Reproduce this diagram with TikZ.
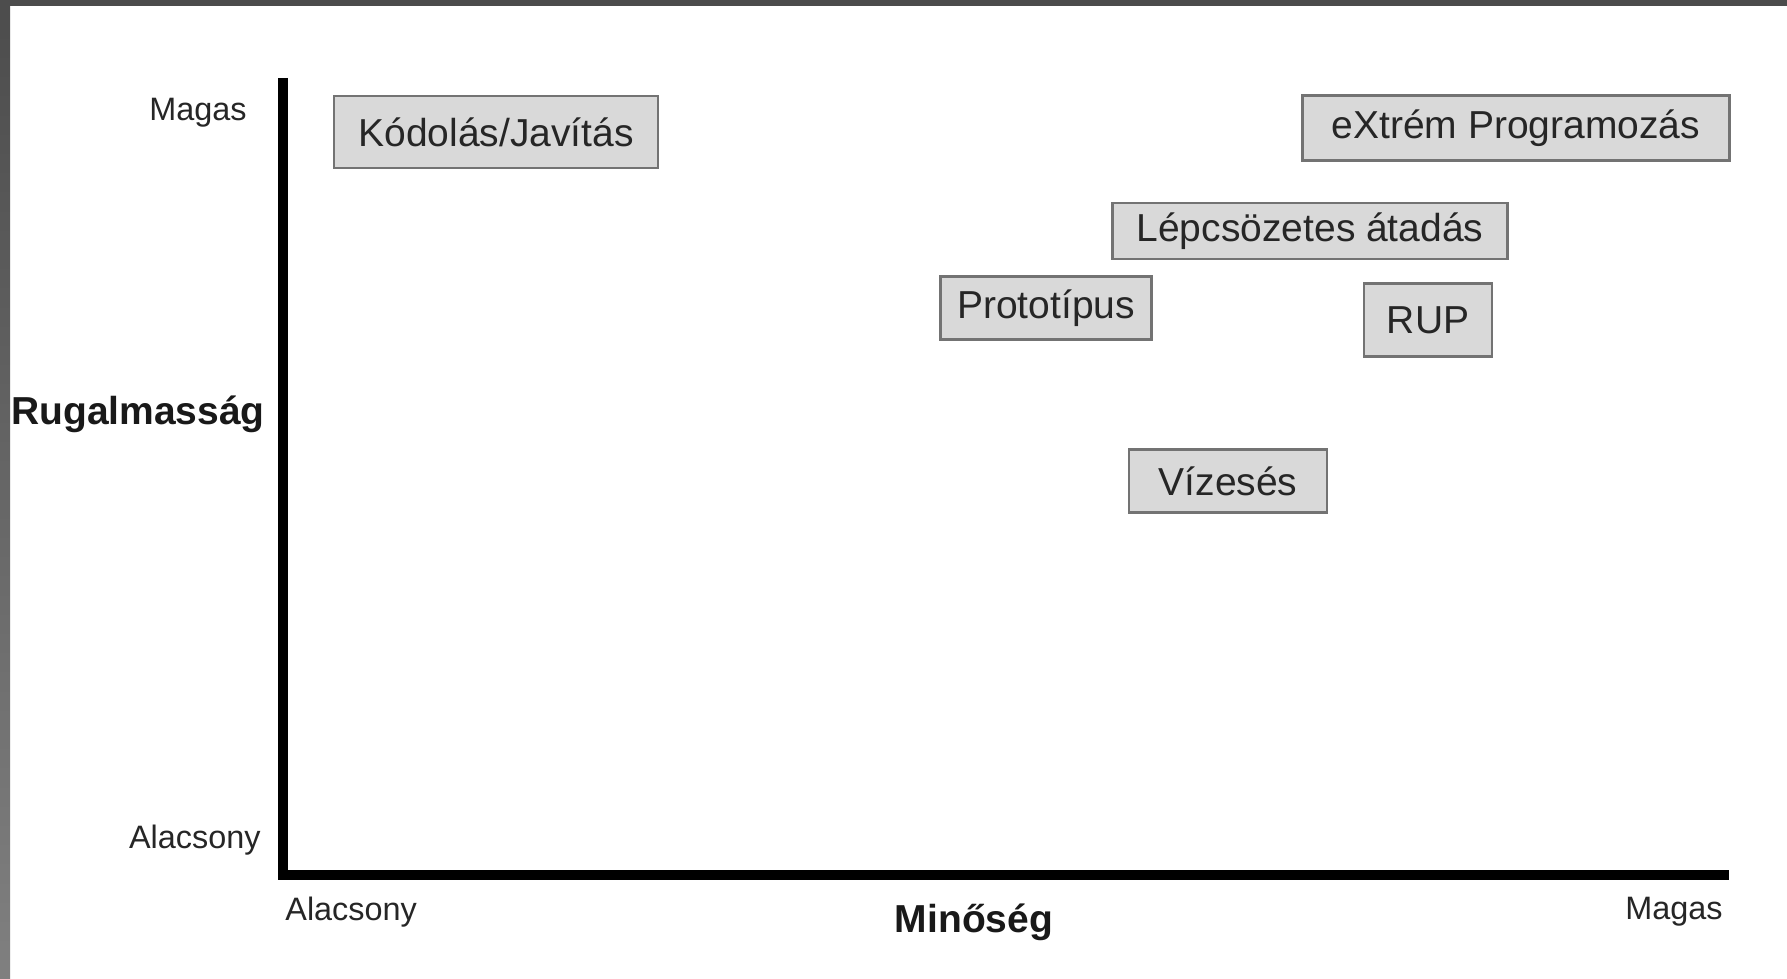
\documentclass[tikz,border=0pt]{standalone}
\usepackage{fontspec}
\setmainfont{Liberation Sans}
\begin{document}
\begin{tikzpicture}[x=0.5pt,y=-0.5pt]
        \tikzstyle{method}=[
            draw=black!55,line width=1.1pt,fill=black!15,inner sep=0pt,
            text=black!85,font=\fontsize{19.5}{23}\selectfont
        ]
        \tikzstyle{axis}=[line width=5pt,black]
        \tikzstyle{tick}=[text=black!85,inner sep=0pt,font=\fontsize{16.2}{19}\selectfont]
        \tikzstyle{title}=[text=black!90,inner sep=0pt,font=\bfseries\fontsize{19.5}{23}\selectfont]

        % Page and frame
        \useasboundingbox (0,0) rectangle (1787,979);
        \fill[white] (0,0) rectangle (1787,979);
        \fill[black!70] (0,0) rectangle (1787,6);
        \shade[top color=black!70,bottom color=black!50] (0,0) rectangle (10,979);

        % Draw the axes
        \coordinate (top) at (283,78);
        \coordinate (origin) at (283,875);
        \coordinate (end) at (1729,875);
        \draw[axis] (top) -- (origin) -- (end);

        % Annotate the axes
        \node[tick,anchor=east] (yhigh) at (247,113) {Magas};
        \node[tick,anchor=east] (ylow) at (261,840) {Alacsony};
        \node[title] (ylabel) at (138,414) {Rugalmasság};
        \node[tick,anchor=west] (xlow) at (285,912) {Alacsony};
        \node[tick,anchor=east] (xhigh) at (1723,912) {Magas};
        \node[title] (xlabel) at (974,922) {Minőség};

        % Draw the methods (sizes in pt, half of the pixel size)
        \node[method,minimum width=162pt,minimum height=36pt] (code) at (496,132) {Kódolás/Javítás};
        \node[method,minimum width=213.5pt,minimum height=32.5pt] (xp) at (1516,128) {eXtrém Programozás};
        \node[method,minimum width=197.5pt,minimum height=28pt] (incr) at (1310,231) {Lépcsözetes átadás};
        \node[method,minimum width=105.5pt,minimum height=31.5pt] (proto) at (1046,308) {Prototípus};
        \node[method,minimum width=64pt,minimum height=36.5pt] (rup) at (1428,320) {RUP};
        \node[method,minimum width=99pt,minimum height=31.5pt] (waterfall) at (1228,481) {Vízesés};
    \end{tikzpicture}
\end{document}
